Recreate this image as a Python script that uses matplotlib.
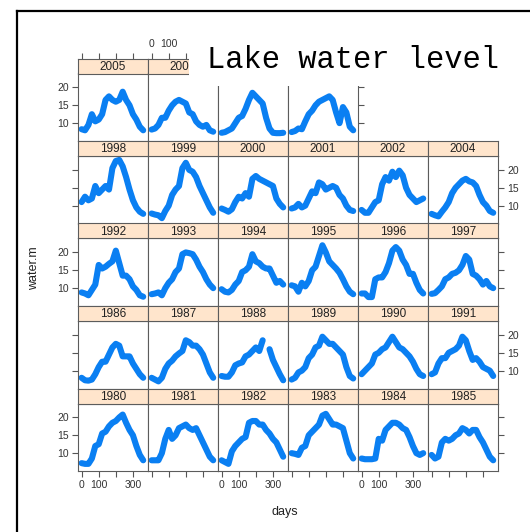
import numpy as np
import matplotlib
matplotlib.use("Agg")
import matplotlib.pyplot as plt
from matplotlib.patches import Rectangle
from matplotlib.lines import Line2D
from matplotlib.transforms import Bbox

plt.rcParams['font.family'] = ['Liberation Sans', 'DejaVu Sans']

# sample days (every 20 days) and water level (m)
days = [0, 20, 40, 60, 80, 100, 120, 140, 160, 180, 200, 220, 240, 260, 280, 300, 320, 340, 360]

w1980 = [7.2, 7.0, 7.0, 8.5, 12.0, 12.5, 15.5, 16.0, 17.5, 18.5, 19.0, 20.0, 20.8, 18.5, 16.5, 15.0, 12.0, 9.5, 8.0]
w1981 = [8.0, 8.0, 8.0, 10.0, 14.0, 16.5, 14.0, 15.0, 17.0, 17.5, 18.0, 17.0, 16.5, 17.0, 15.0, 13.0, 11.0, 9.0, 8.0]
w1982 = [8.0, 7.5, 7.0, 10.5, 12.0, 13.0, 14.0, 14.5, 18.5, 19.0, 19.0, 18.0, 18.0, 16.5, 15.5, 14.0, 13.0, 11.0, 9.0]
w1983 = [10.0, 9.8, 9.5, 11.5, 12.0, 15.0, 16.0, 17.0, 18.0, 20.5, 21.0, 19.5, 18.0, 18.0, 17.5, 17.0, 13.5, 10.0, 8.5]
w1984 = [8.5, 8.3, 8.3, 8.3, 8.5, 14.0, 13.5, 16.5, 17.5, 18.5, 18.5, 18.0, 17.0, 16.5, 14.5, 12.0, 10.0, 9.5, 10.0]
w1985 = [9.5, 8.5, 9.0, 13.0, 14.0, 13.5, 14.0, 15.0, 15.5, 17.0, 16.5, 15.5, 16.5, 16.5, 14.5, 13.0, 11.0, 9.0, 8.0]

w1986 = [8.0, 7.3, 7.2, 7.5, 9.0, 11.0, 12.5, 12.5, 14.5, 16.5, 17.5, 17.0, 14.0, 14.0, 14.0, 12.0, 10.5, 9.0, 8.0]
w1987 = [8.0, 7.5, 7.0, 8.0, 10.5, 12.0, 12.8, 14.0, 14.8, 15.5, 18.5, 18.0, 17.0, 17.0, 16.0, 14.5, 12.0, 9.5, 8.0]
w1988 = [8.5, 8.3, 8.3, 9.5, 11.5, 12.0, 12.3, 14.0, 14.5, 15.5, 16.5, 15.5, 18.5, np.nan, 16.0, 13.0, 11.0, 9.0, 7.3]
w1989 = [7.5, 8.0, 9.5, 10.0, 11.0, 13.5, 14.5, 16.5, 17.0, 19.5, 18.5, 17.5, 17.5, 16.5, 15.5, 14.5, 11.0, 8.5, 7.8]
w1990 = [9.0, 10.0, 11.0, 12.0, 14.5, 15.0, 16.0, 16.5, 18.0, 19.5, 18.0, 16.5, 16.0, 15.0, 14.0, 12.5, 10.5, 9.0, 8.5]
w1991 = [9.0, 9.5, 12.0, 13.5, 13.5, 15.0, 15.5, 16.0, 17.0, 19.5, 18.5, 15.5, 13.0, 13.5, 12.5, 11.0, 10.5, 10.0, 8.5]

w1992 = [8.8, 8.5, 8.0, 9.5, 11.0, 16.5, 15.5, 16.0, 16.8, 17.5, 20.5, 17.0, 13.5, 13.5, 12.5, 10.5, 9.5, 8.0, 7.6]
w1993 = [8.3, 8.5, 8.8, 8.0, 10.0, 11.5, 12.5, 14.5, 15.5, 19.5, 20.0, 19.8, 19.5, 18.0, 16.0, 14.5, 12.5, 11.0, 10.0]
w1994 = [9.7, 9.0, 8.8, 9.5, 11.0, 12.0, 14.5, 15.0, 16.0, 19.5, 17.5, 17.0, 16.0, 15.5, 15.5, 13.5, 11.5, 12.0, 11.0]
w1995 = [10.8, 10.5, 9.0, 11.5, 10.5, 12.0, 15.0, 16.0, 19.0, 22.0, 20.0, 17.5, 16.5, 15.5, 14.3, 12.5, 10.5, 9.0, 8.3]
w1996 = [8.5, 8.5, 7.5, 7.5, 12.5, 13.0, 13.0, 14.5, 17.0, 20.5, 21.5, 20.5, 18.0, 16.5, 14.0, 14.0, 11.5, 9.5, 8.5]
w1997 = [8.4, 8.6, 9.5, 10.5, 12.5, 13.0, 14.0, 14.3, 15.0, 16.5, 19.0, 18.0, 14.0, 13.5, 12.5, 11.0, 12.0, 10.5, 10.0]

w1998 = [11.0, 12.5, 11.5, 12.0, 15.5, 13.5, 14.5, 15.5, 14.5, 20.5, 22.5, 22.8, 21.0, 18.0, 14.5, 11.5, 9.5, 8.3, 7.7]
w1999 = [7.8, 7.5, 7.3, 6.5, 8.5, 10.0, 13.0, 14.5, 15.5, 20.5, 22.0, 20.0, 19.5, 18.0, 15.5, 13.5, 11.5, 9.5, 8.0]
w2000 = [9.2, 8.8, 8.3, 9.0, 11.0, 12.5, 12.0, 13.5, 12.5, 17.5, 18.3, 17.5, 17.0, 16.5, 16.0, 15.5, 12.0, 10.5, 9.5]
w2001 = [9.2, 9.5, 10.5, 9.5, 10.0, 12.0, 14.0, 13.5, 16.5, 16.0, 14.5, 15.0, 15.5, 15.0, 13.0, 12.0, 10.0, 8.8, 8.5]
w2002 = [8.8, 8.0, 8.0, 9.5, 11.0, 11.5, 16.0, 18.0, 17.0, 19.5, 18.0, 19.8, 18.5, 15.0, 13.0, 12.0, 11.0, 11.5, 12.0]
w2004 = [7.7, 7.3, 7.0, 8.3, 9.5, 11.0, 13.5, 15.0, 16.0, 17.0, 17.5, 16.8, 16.5, 15.5, 13.0, 11.0, 10.0, 8.5, 8.0]

w2005 = [8.3, 8.0, 9.5, 12.5, 10.5, 11.0, 12.5, 16.5, 17.5, 16.5, 16.0, 16.5, 18.8, 16.5, 15.0, 12.5, 11.0, 9.0, 8.0]
w2006 = [8.2, 8.5, 9.5, 11.5, 11.5, 13.5, 15.0, 16.0, 16.5, 16.0, 15.5, 13.0, 12.5, 10.5, 9.5, 9.0, 9.5, 8.0, 7.6]
w2007 = [7.3, 7.5, 8.0, 8.5, 10.0, 11.5, 12.0, 14.0, 16.5, 18.5, 17.5, 16.5, 15.5, 11.5, 8.5, 7.3, 7.2, 7.2, 7.3]
w2008 = [7.5, 7.8, 8.5, 8.3, 10.5, 12.5, 13.5, 15.0, 16.0, 16.5, 17.0, 17.5, 16.5, 13.0, 10.0, 14.5, 13.0, 9.0, 8.0]

# panel layout, top row first
row0 = [2005, 2006, 2007, 2008]
row1 = [1998, 1999, 2000, 2001, 2002, 2004]
row2 = [1992, 1993, 1994, 1995, 1996, 1997]
row3 = [1986, 1987, 1988, 1989, 1990, 1991]
row4 = [1980, 1981, 1982, 1983, 1984, 1985]
rows = [row0, row1, row2, row3, row4]

level = {1980: w1980, 1981: w1981, 1982: w1982, 1983: w1983, 1984: w1984, 1985: w1985,
         1986: w1986, 1987: w1987, 1988: w1988, 1989: w1989, 1990: w1990, 1991: w1991,
         1992: w1992, 1993: w1993, 1994: w1994, 1995: w1995, 1996: w1996, 1997: w1997,
         1998: w1998, 1999: w1999, 2000: w2000, 2001: w2001, 2002: w2002, 2004: w2004,
         2005: w2005, 2006: w2006, 2007: w2007, 2008: w2008}

# strips that sit under the title box in the picture (no visible label)
hidden_strips = [2007, 2008]

xticks = [0, 100, 200, 300]
xlabels = ['0', '100', '', '300']
top_labels = ['0', '100', '', '']   # the rest is under the title box
yticks = [10, 15, 20]

W, H = 530, 532
fig = plt.figure(figsize=(W / 100, H / 100), dpi=100)


def box(x0, y0, x1, y1):
    # pixel box (y going down) -> figure fraction
    return [x0 / W, 1 - y1 / H, (x1 - x0) / W, (y1 - y0) / H]


blue = '#0a7ff2'
edge = '#5c5c5c'
col_left = 78
col_w = 70
panel_bottom = [141, 223.5, 306, 388.5, 471]
panel_h = 67.5
strip_h = 15
title_box_left = 189

tick_kw = dict(direction='out', length=4.5, width=0.8, color='#555555',
               labelsize=7.5, labelcolor='#333333', pad=2)

for r, row in enumerate(rows):
    last = len(row) - 1
    for c, year in enumerate(row):
        x0 = col_left + col_w * c
        y1 = panel_bottom[r]
        y0 = y1 - panel_h

        ax = fig.add_axes(box(x0, y0, x0 + col_w, y1))
        ax.plot(days, level[year], color=blue, lw=4.4,
                solid_capstyle='round', solid_joinstyle='round')
        ax.set_xlim(-21, 388)
        ax.set_ylim(5.0, 23.9)
        ax.set_xticks(xticks)
        ax.set_xticklabels(xlabels)
        ax.set_yticks(yticks)
        ax.tick_params(**tick_kw)
        ax.tick_params(axis='x', bottom=(r == 4), labelbottom=(r == 4 and c % 2 == 0),
                       top=False, labeltop=False)
        ax.tick_params(axis='y', left=(c == 0), labelleft=(c == 0 and r % 2 == 0),
                       right=(c == last), labelright=(c == last and r % 2 == 1))
        for s in ax.spines.values():
            s.set_color(edge)
            s.set_linewidth(0.8)

        st = fig.add_axes(box(x0, y0 - strip_h, x0 + col_w, y0))
        st.set_facecolor('#ffe5cc')
        st.set_xlim(-21, 388)
        st.set_yticks([])
        if r == 0:
            st.set_xticks(xticks)
            st.set_xticklabels(top_labels)
            st.tick_params(**tick_kw)
            st.tick_params(axis='x', top=True, labeltop=(c == 1),
                           bottom=False, labelbottom=False)
        else:
            st.set_xticks([])
        for s in st.spines.values():
            s.set_color(edge)
            s.set_linewidth(0.8)
        if year not in hidden_strips:
            t = st.text(0.5, 0.45, str(year), transform=st.transAxes, ha='center',
                        va='center', fontsize=8.5, color='#222222')
            if r == 0:
                # label is cut off by the title box
                t.set_clip_box(Bbox.from_extents(0, 0, title_box_left, H))
                t.set_clip_on(True)

fig.text(285 / W, 1 - 512 / H, 'days', ha='center', va='center', fontsize=9, color='#222222')
fig.text(34 / W, 1 - 268 / H, 'water.m', ha='center', va='center', rotation=90,
         fontsize=9, color='#222222')

# title pasted on a white box over the top-right panels
fig.add_artist(Rectangle((title_box_left / W, 1 - 86 / H), (W - title_box_left) / W, 58 / H,
                         transform=fig.transFigure, facecolor='white',
                         edgecolor='none', zorder=10))
fig.text(207 / W, 1 - 68 / H, 'Lake water level', family='Liberation Mono',
         fontsize=22, va='baseline', ha='left', color='black', zorder=11)

# outer frame (left and top edges)
fig.add_artist(Line2D([17 / W, 17 / W], [0, 1 - 11 / H], color='black', lw=1.6,
                      transform=fig.transFigure, zorder=12))
fig.add_artist(Line2D([17 / W, 1], [1 - 11 / H, 1 - 11 / H], color='black', lw=1.6,
                      transform=fig.transFigure, zorder=12))

fig.savefig('out.png', dpi=100)
